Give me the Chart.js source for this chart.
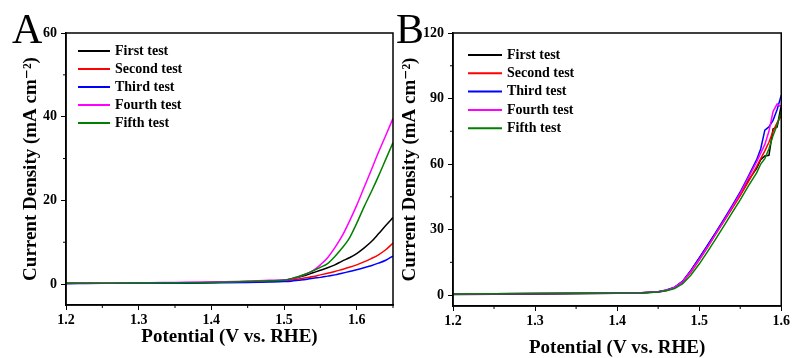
<!DOCTYPE html>
<html>
<head>
<meta charset="utf-8">
<script src="https://cdn.jsdelivr.net/npm/chart.js@4.4.1/dist/chart.umd.min.js"></script>
<style>
  html, body { margin: 0; padding: 0; background: #fff; }
  #wrap { position: relative; width: 792px; height: 358px; overflow: hidden; }
  .panel { position: absolute; top: 0; width: 396px; height: 358px; }
  .letter { position: absolute; top: 8px; font-family: "Liberation Serif", serif; font-size: 42px; line-height: 1; color: #000; }
</style>
</head>
<body>
<div id="wrap">
  <div class="panel" style="left:0"><canvas id="chartA" width="396" height="358"></canvas></div>
  <div class="panel" style="left:396px"><canvas id="chartB" width="396" height="358"></canvas></div>
  <div class="letter" style="left:12px">A</div>
  <div class="letter" style="left:396px">B</div>
</div>
<script>
// ---- Datos ----
var testNames = ['First test', 'Second test', 'Third test', 'Fourth test', 'Fifth test'];
var testColors = ['#000000', '#ff0000', '#0000ff', '#ff00ff', '#008000'];

// Panel A: potencial (V vs. RHE) y densidad de corriente (mA cm-2)
var potentialA = [1.20, 1.25, 1.30, 1.35, 1.40, 1.45, 1.48, 1.50, 1.51, 1.52, 1.53, 1.54, 1.55,
  1.56, 1.57, 1.58, 1.59, 1.60, 1.61, 1.62, 1.63, 1.64, 1.65];
var firstA  = [0.2, 0.2, 0.3, 0.3, 0.4, 0.6, 0.8, 0.9, 1.2, 1.6, 2.1, 2.7, 3.3, 3.9, 4.6, 5.5, 6.3, 7.3, 8.6, 10.1, 12.0, 14.0, 15.9];
var secondA = [0.2, 0.2, 0.2, 0.3, 0.4, 0.5, 0.7, 0.8, 1.0, 1.2, 1.5, 1.8, 2.2, 2.6, 3.0, 3.5, 4.0, 4.6, 5.3, 6.1, 7.0, 8.2, 9.8];
var thirdA  = [0.1, 0.2, 0.2, 0.2, 0.3, 0.4, 0.5, 0.6, 0.7, 0.9, 1.1, 1.4, 1.6, 1.9, 2.2, 2.6, 3.0, 3.4, 3.9, 4.4, 5.0, 5.7, 6.7];
var fourthA = [0.2, 0.3, 0.3, 0.4, 0.5, 0.7, 0.9, 1.0, 1.3, 1.7, 2.4, 3.2, 4.6, 6.3, 8.7, 11.5, 15.0, 18.8, 23.0, 27.2, 31.5, 35.5, 39.6];
var fifthA  = [0.2, 0.2, 0.3, 0.3, 0.4, 0.6, 0.8, 0.9, 1.3, 1.8, 2.4, 3.2, 4.0, 4.9, 6.6, 8.6, 11.0, 14.5, 18.4, 22.0, 25.8, 29.8, 33.8];
var ticksAx = [1.2, 1.6, 0.1];   // min tick, max tick, paso
var ticksAy = [0, 60, 20];

// Panel B
var potentialB = [1.20, 1.25, 1.30, 1.35, 1.40, 1.43, 1.45, 1.46, 1.47, 1.48, 1.49, 1.50, 1.51,
  1.52, 1.53, 1.54, 1.55, 1.56, 1.57, 1.575, 1.58, 1.585, 1.59, 1.595, 1.60];
var firstB  = [0.3, 0.4, 0.5, 0.6, 0.8, 1.0, 1.4, 2.1, 3.4, 6.3, 11.2, 16.8, 22.5, 28.4, 34.2, 40.0, 46.0, 52.5, 58.0, 62.0, 63.7, 64.0, 76.0, 77.0, 87.0];
var secondB = [0.5, 0.6, 0.7, 0.8, 0.9, 1.1, 1.5, 2.2, 3.4, 6.0, 10.6, 16.0, 21.8, 27.8, 33.6, 39.6, 45.6, 52.0, 58.8, 62.5, 66.0, 70.0, 75.0, 79.0, 82.0];
var thirdB  = [0.5, 0.6, 0.7, 0.8, 0.9, 1.1, 1.5, 2.3, 3.6, 6.4, 11.4, 17.0, 22.8, 28.6, 34.6, 40.8, 47.2, 54.5, 62.0, 67.0, 75.5, 77.0, 80.0, 85.0, 91.5];
var fourthB = [0.5, 0.6, 0.7, 0.8, 0.9, 1.1, 1.5, 2.2, 3.5, 6.2, 10.9, 16.3, 22.0, 28.0, 34.0, 40.2, 46.6, 53.8, 61.0, 65.0, 69.0, 75.0, 84.0, 87.5, 86.0];
var fifthB  = [0.5, 0.6, 0.7, 0.8, 0.9, 1.1, 1.4, 2.0, 3.0, 5.2, 9.2, 14.2, 19.8, 25.6, 31.6, 37.6, 43.6, 50.0, 56.0, 60.0, 62.5, 67.0, 73.0, 78.0, 84.0];
var ticksBx = [1.2, 1.6, 0.1];
var ticksBy = [0, 120, 30];

Chart.defaults.font.family = "'Liberation Serif', 'DejaVu Serif', serif";
Chart.defaults.color = '#000';

function toPoints(xs, ys) {
  return xs.map(function (x, i) { return { x: x, y: ys[i] }; });
}

function buildDatasets(xs, seriesList, smooth) {
  return seriesList.map(function (ys, i) {
    return {
      label: testNames[i],
      data: toPoints(xs, ys),
      borderColor: testColors[i],
      backgroundColor: testColors[i],
      borderWidth: 1.5,
      pointRadius: 0,
      cubicInterpolationMode: smooth ? 'monotone' : 'default',
      tension: 0,
      order: seriesList.length - i
    };
  });
}

// ---- Marco, ticks menores y leyenda interna ----
var framePlugin = {
  id: 'frameBox',
  afterDraw: function (chart) {
    var ctx = chart.ctx, a = chart.chartArea;
    ctx.save();
    ctx.strokeStyle = '#000';
    ctx.lineWidth = 1.5;
    ctx.strokeRect(a.left, a.top, a.right - a.left, a.bottom - a.top);

    // ticks menores (a mitad de cada intervalo)
    ctx.lineWidth = 1;
    ['x', 'y'].forEach(function (id) {
      var s = chart.scales[id];
      var t = s.ticks.map(function (k) { return k.value; });
      for (var i = 0; i < t.length; i++) {
        var step = t.length > 1 ? (t[1] - t[0]) : 0;
        var v = t[i] + step / 2;
        if (v > s.max + 1e-9) continue;
        var p = s.getPixelForValue(v);
        ctx.beginPath();
        if (id === 'x') { ctx.moveTo(p, a.bottom); ctx.lineTo(p, a.bottom + 3); }
        else { ctx.moveTo(a.left, p); ctx.lineTo(a.left - 3, p); }
        ctx.stroke();
      }
    });

    // leyenda
    var lg = chart.options.plugins.insideLegend;
    ctx.font = 'bold 14px "Liberation Serif"';
    ctx.textBaseline = 'middle';
    ctx.textAlign = 'left';
    chart.data.datasets.forEach(function (ds, i) {
      var y = lg.y + i * lg.dy;
      ctx.strokeStyle = ds.borderColor;
      ctx.lineWidth = 2;
      ctx.beginPath();
      ctx.moveTo(lg.x, y);
      ctx.lineTo(lg.x + lg.len, y);
      ctx.stroke();
      ctx.fillStyle = '#000';
      ctx.fillText(ds.label, lg.x + lg.len + 5, y);
    });
    ctx.restore();
  }
};

function makeAxes(tx, ty, xr, yr, xFit, yFit, xTitlePad, yTitlePad) {
  var tickFont = { size: 14, weight: 'bold' };
  var titleFont = { size: 19, weight: 'bold', lineHeight: 1 };
  var grid = { drawOnChartArea: false, drawTicks: true, tickLength: 5, color: '#000', lineWidth: 1 };
  return {
    x: {
      type: 'linear', min: xr[0], max: xr[1],
      ticks: { stepSize: tx[2], includeBounds: false, font: tickFont, padding: 2, maxRotation: 0,
        callback: function (v) { return v.toFixed(1); } },
      grid: grid,
      border: { display: true, color: '#000', width: 1.5 },
      title: { display: true, text: 'Potential (V vs. RHE)', font: titleFont, padding: { top: 0, bottom: xTitlePad } },
      afterFit: function (s) { s.height = xFit; }
    },
    y: {
      type: 'linear', min: yr[0], max: yr[1],
      ticks: { stepSize: ty[2], includeBounds: false, font: tickFont, padding: 4 },
      grid: grid,
      border: { display: true, color: '#000', width: 1.5 },
      title: { display: true, text: 'Current Density (mA cm\u207B\u00B2)', font: titleFont, padding: { top: yTitlePad, bottom: 0 } },
      afterFit: function (s) { s.width = yFit; }
    }
  };
}

new Chart(document.getElementById('chartA'), {
  type: 'line',
  data: { datasets: buildDatasets(potentialA, [firstA, secondA, thirdA, fourthA, fifthA], true) },
  options: {
    responsive: false, animation: false, events: [],
    layout: { padding: { left: 0, right: 3, top: 33, bottom: 0 } },
    scales: makeAxes(ticksAx, ticksAy, [1.2, 1.65], [-5, 60], 53, 66, 11, 22),
    plugins: {
      legend: { display: false }, tooltip: { enabled: false },
      insideLegend: { x: 78, y: 51, dy: 18, len: 32 }
    }
  },
  plugins: [framePlugin]
});

new Chart(document.getElementById('chartB'), {
  type: 'line',
  data: { datasets: buildDatasets(potentialB, [firstB, secondB, thirdB, fourthB, fifthB], false) },
  options: {
    responsive: false, animation: false, events: [],
    layout: { padding: { left: 0, right: 10, top: 33, bottom: 0 } },
    scales: makeAxes(ticksBx, ticksBy, [1.2, 1.6], [-5, 120], 52, 57, 0, 5),
    plugins: {
      legend: { display: false }, tooltip: { enabled: false },
      insideLegend: { x: 72, y: 55, dy: 18.3, len: 34 }
    }
  },
  plugins: [framePlugin]
});
</script>
</body>
</html>
